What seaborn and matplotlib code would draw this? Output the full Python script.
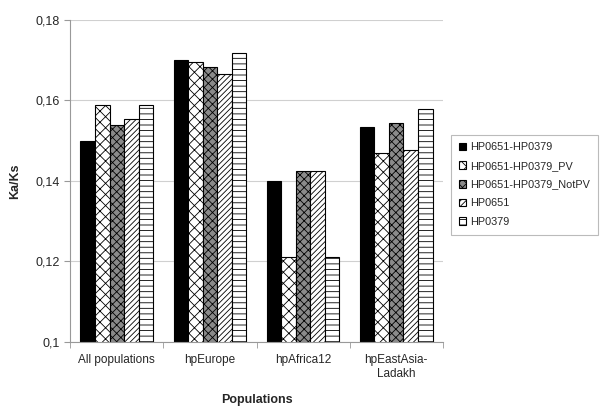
import matplotlib
matplotlib.use("Agg")
import matplotlib.pyplot as plt
from matplotlib.ticker import FuncFormatter, FixedLocator
import pandas as pd
import seaborn as sns

# --- data ---
populations = ["All populations", "hpEurope", "hpAfrica12", "hpEastAsia-\nLadakh"]
series = ["HP0651-HP0379", "HP0651-HP0379_PV", "HP0651-HP0379_NotPV", "HP0651", "HP0379"]
vals_hp0651_hp0379 = [0.150, 0.170, 0.140, 0.1533]
vals_pv = [0.159, 0.1695, 0.121, 0.147]
vals_notpv = [0.154, 0.1683, 0.1425, 0.1543]
vals_hp0651 = [0.1553, 0.1667, 0.1425, 0.1476]
vals_hp0379 = [0.159, 0.1718, 0.121, 0.1578]

all_vals = [vals_hp0651_hp0379, vals_pv, vals_notpv, vals_hp0651, vals_hp0379]
rows = []
for name, vals in zip(series, all_vals):
    for pop, v in zip(populations, vals):
        rows.append({"population": pop, "series": name, "kaks": v})
df = pd.DataFrame(rows)

# fill / hatch styles per series (black & white print look)
faces = ["black", "white", "#8a8a8a", "white", "white"]
hatches = [None, "xxx", "xxxx", "//////", "---"]

sns.set_style("white")
plt.rcParams["font.family"] = ["Liberation Sans", "DejaVu Sans"]
plt.rcParams["hatch.linewidth"] = 0.6

fig = plt.figure(figsize=(6, 4.17), dpi=100)
ax = fig.add_axes([0.117, 0.18, 0.621, 0.772])

sns.barplot(data=df, x="population", y="kaks", hue="series", hue_order=series,
            order=populations, palette=faces, width=0.78, saturation=1,
            edgecolor="black", linewidth=0.8, ax=ax)

for cont, fc, h in zip(ax.containers, faces, hatches):
    for p in cont.patches:
        p.set_facecolor(fc)
        p.set_edgecolor("black")
        if h:
            p.set_hatch(h)

ax.set_ylim(0.1, 0.18)
ax.set_yticks([0.1, 0.12, 0.14, 0.16, 0.18])
ax.yaxis.set_major_formatter(FuncFormatter(lambda v, _: ("%g" % round(v, 3)).replace(".", ",")))
ax.set_xlim(-0.5, len(populations) - 0.5)
ax.grid(axis="y", color="#d0d0d0", linewidth=0.8)
ax.set_axisbelow(True)

for s in ["top", "right"]:
    ax.spines[s].set_visible(False)
for s in ["left", "bottom"]:
    ax.spines[s].set_color("#999999")
    ax.spines[s].set_linewidth(0.8)

# small tick marks between categories like the original
ax.xaxis.set_minor_locator(FixedLocator([i + 0.5 for i in range(-1, len(populations))]))
ax.tick_params(axis="x", which="minor", length=4, color="#999999", bottom=True)
ax.tick_params(axis="x", which="major", length=0, labelsize=8.5, pad=9)
ax.tick_params(axis="y", length=4, color="#999999", left=True, labelsize=9)

ax.set_xlabel("Populations", fontsize=9, fontweight="bold", labelpad=10)
ax.set_ylabel("Ka/Ks", fontsize=9, fontweight="bold", labelpad=10)

ax.get_legend().remove()
leg = fig.legend(ax.containers, series, loc="upper left", bbox_to_anchor=(0.743, 0.69),
                 fontsize=7.8, frameon=True, fancybox=False, edgecolor="#aaaaaa",
                 handlelength=0.7, handleheight=0.7, handletextpad=0.35,
                 labelspacing=0.8, borderpad=0.7)
leg.get_frame().set_linewidth(0.8)

fig.savefig("out.png", dpi=100)
